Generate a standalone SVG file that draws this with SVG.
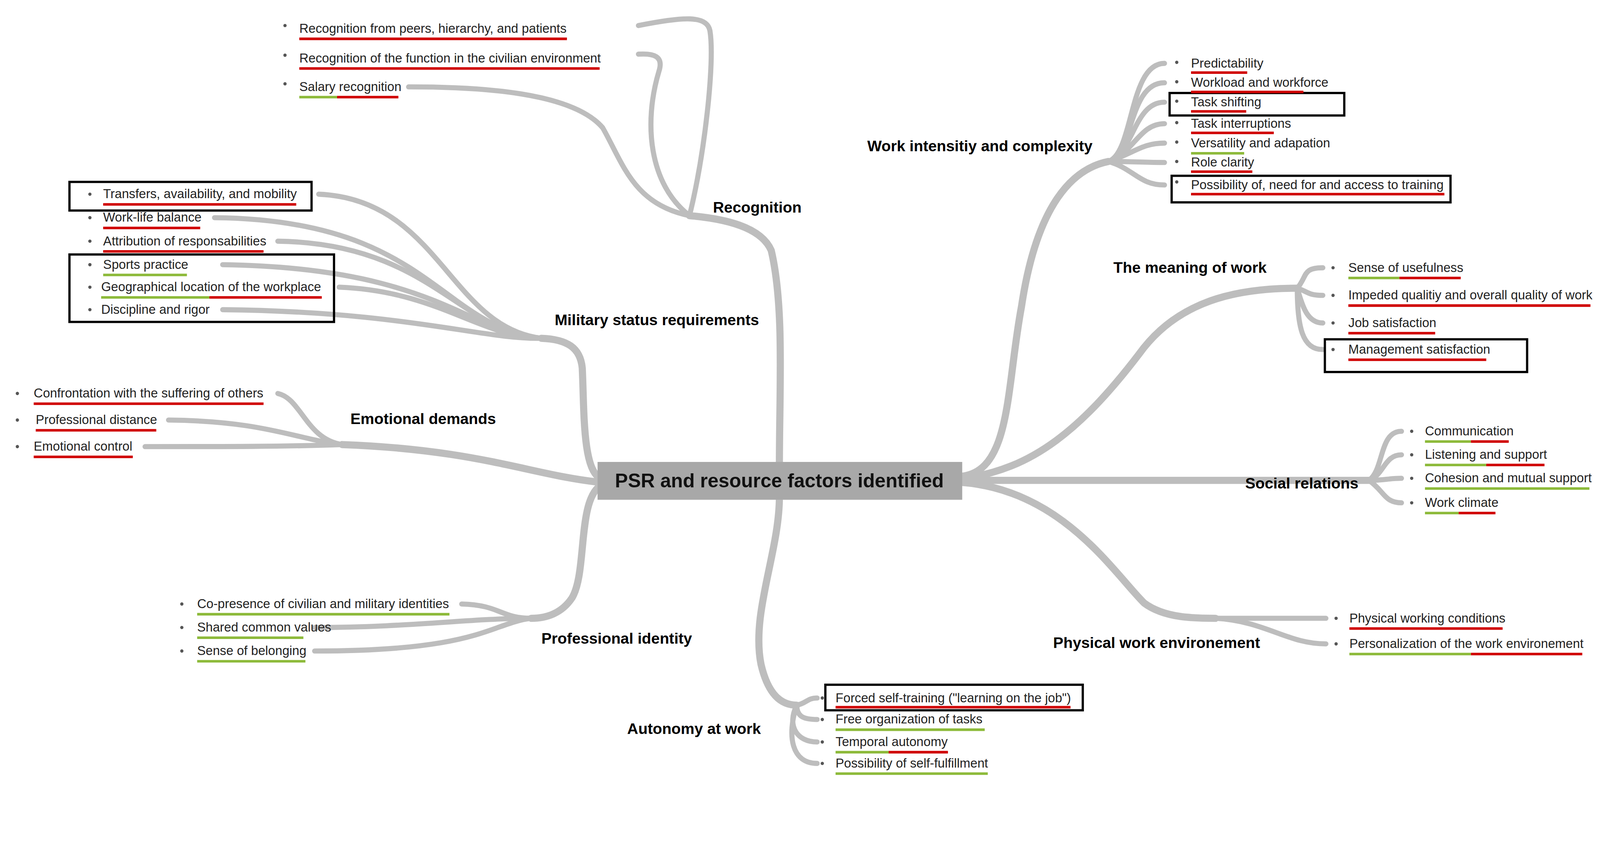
<svg xmlns="http://www.w3.org/2000/svg" width="4375" height="2157" viewBox="0 0 4375 2157">
<style>
.t{font-family:"Liberation Sans",Arial,sans-serif;font-size:12.5px;fill:#222}
.l{font-family:"Liberation Sans",Arial,sans-serif;font-size:15px;font-weight:bold;fill:#000}
.br{fill:none;stroke:#bdbdbd;stroke-width:7;stroke-linecap:round}
.sb{fill:none;stroke:#bdbdbd;stroke-width:5;stroke-linecap:round}
.r{stroke:#d00000;stroke-width:2.5}
.g{stroke:#8dba3a;stroke-width:2.5}
.bx{fill:none;stroke:#000;stroke-width:2.2}
.d{fill:#555}
</style>
<rect width="4375" height="2157" fill="#fff"/>
<g transform="scale(2.615)">
<g id="connectors">
<path class="br" d="M763,455 C763,380 768,300 755,245 C745,222 710,214 675,211"/>
<path class="br" d="M588,468 C570,460 572,400 570,360 C568,340 555,332 530,331"/>
<path class="br" d="M588,472 C520,465 470,440 335,435"/>
<path class="br" d="M588,475 C565,490 575,560 560,585 C550,600 535,605 520,605"/>
<path class="br" d="M763,486 C763,540 735,600 745,650 C752,680 765,690 780,690"/>
<path class="br" d="M942,466 C990,460 985,380 1000,300 C1015,200 1050,165 1085,158"/>
<path class="br" d="M942,468 C1010,460 1060,420 1120,340 C1160,290 1220,282 1270,282"/>
<path class="br" d="M942,470 C1050,470 1200,470 1340,470"/>
<path class="br" d="M942,472 C1040,480 1090,560 1120,590 C1140,605 1170,605 1190,605"/>
<path class="sb" d="M675,211 C690,150 700,60 695,30 C692,15 670,16 625,25"/>
<path class="sb" d="M675,211 C635,180 630,120 645,70 C650,55 640,52 625,53"/>
<path class="sb" d="M675,211 C620,200 610,160 590,125 C560,90 470,85 400,85"/>
<path class="sb" d="M530,331 C440,320 430,195 312,190"/>
<path class="sb" d="M530,331 C430,320 420,215 210,213"/>
<path class="sb" d="M530,331 C450,325 420,238 272,236"/>
<path class="sb" d="M530,331 C460,328 430,262 218,259"/>
<path class="sb" d="M530,331 C470,330 430,285 332,281"/>
<path class="sb" d="M530,331 C470,332 400,305 218,303"/>
<path class="sb" d="M335,435 C300,430 295,390 272,385"/>
<path class="sb" d="M335,435 C290,430 260,412 165,411"/>
<path class="sb" d="M335,435 C280,437 220,437 142,437"/>
<path class="sb" d="M520,605 C490,605 490,592 452,591"/>
<path class="sb" d="M520,605 C460,605 400,614 308,614"/>
<path class="sb" d="M520,605 C480,610 470,637 308,637"/>
<path class="sb" d="M780,690 C790,688 790,683 800,683"/>
<path class="sb" d="M780,690 C780,700 785,704 800,704"/>
<path class="sb" d="M780,690 C770,710 780,726 800,726"/>
<path class="sb" d="M780,690 C770,720 775,747 800,747"/>
<path class="sb" d="M1085,158 C1110,150 1105,62 1140,62"/>
<path class="sb" d="M1085,158 C1110,150 1105,81 1140,81"/>
<path class="sb" d="M1085,158 C1110,150 1110,100 1140,100"/>
<path class="sb" d="M1085,158 C1110,150 1115,121 1140,121"/>
<path class="sb" d="M1085,158 C1110,150 1118,140 1140,140"/>
<path class="sb" d="M1085,158 C1110,158 1120,159 1140,159"/>
<path class="sb" d="M1085,158 C1110,165 1115,181 1140,181"/>
<path class="sb" d="M1270,282 C1280,270 1275,262 1295,262"/>
<path class="sb" d="M1270,282 C1280,285 1280,289 1295,289"/>
<path class="sb" d="M1270,282 C1275,300 1280,316 1295,316"/>
<path class="sb" d="M1270,282 C1270,320 1275,342 1295,342"/>
<path class="sb" d="M1340,470 C1355,460 1350,422 1372,422"/>
<path class="sb" d="M1340,470 C1355,465 1355,445 1372,445"/>
<path class="sb" d="M1340,470 C1355,470 1360,468 1372,468"/>
<path class="sb" d="M1340,470 C1355,480 1355,492 1372,492"/>
<path class="sb" d="M1190,605 C1240,605 1270,605 1298,605"/>
<path class="sb" d="M1190,605 C1240,608 1260,630 1298,630"/>
</g>

<g id="center">
<rect x="585" y="452" width="357" height="37" fill="#a8a8a8"/>
<text x="763" y="477" text-anchor="middle" style="font-family:'Liberation Sans',Arial,sans-serif;font-size:19px;font-weight:bold;fill:#111">PSR and resource factors identified</text>
</g>

<g id="recognition">
<text class="l" x="698" y="208">Recognition</text>
<circle class="d" cx="279" cy="25" r="1.6"/><text class="t" x="293" y="32">Recognition from peers, hierarchy, and patients</text><line class="r" x1="293" y1="38" x2="555" y2="38"/>
<circle class="d" cx="279" cy="54" r="1.6"/><text class="t" x="293" y="61">Recognition of the function in the civilian environment</text><line class="r" x1="293" y1="67" x2="587" y2="67"/>
<circle class="d" cx="279" cy="82" r="1.6"/><text class="t" x="293" y="89">Salary recognition</text><line class="g" x1="293" y1="95" x2="330" y2="95"/><line class="r" x1="330" y1="95" x2="390" y2="95"/>
</g>

<g id="military">
<text class="l" x="543" y="318">Military status requirements</text>
<rect class="bx" x="68" y="178" width="237" height="28"/>
<rect class="bx" x="68" y="249" width="259" height="66"/>
<circle class="d" cx="88" cy="190" r="1.6"/><text class="t" x="101" y="194">Transfers, availability, and mobility</text><line class="r" x1="101" y1="200" x2="290" y2="200"/>
<circle class="d" cx="88" cy="213" r="1.6"/><text class="t" x="101" y="217">Work-life balance</text><line class="r" x1="101" y1="223" x2="196" y2="223"/>
<circle class="d" cx="88" cy="236" r="1.6"/><text class="t" x="101" y="240">Attribution of responsabilities</text><line class="r" x1="101" y1="246" x2="258" y2="246"/>
<circle class="d" cx="88" cy="259" r="1.6"/><text class="t" x="101" y="263">Sports practice</text><line class="g" x1="101" y1="269" x2="183" y2="269"/>
<circle class="d" cx="88" cy="281" r="1.6"/><text class="t" x="99" y="285">Geographical location of the workplace</text><line class="g" x1="99" y1="291" x2="205" y2="291"/><line class="r" x1="205" y1="291" x2="315" y2="291"/>
<circle class="d" cx="88" cy="303" r="1.6"/><text class="t" x="99" y="307">Discipline and rigor</text>
</g>

<g id="emotional">
<text class="l" x="343" y="415">Emotional demands</text>
<circle class="d" cx="17" cy="385" r="1.6"/><text class="t" x="33" y="389">Confrontation with the suffering of others</text><line class="r" x1="33" y1="395" x2="258" y2="395"/>
<circle class="d" cx="17" cy="411" r="1.6"/><text class="t" x="35" y="415">Professional distance</text><line class="r" x1="35" y1="421" x2="153" y2="421"/>
<circle class="d" cx="17" cy="437" r="1.6"/><text class="t" x="33" y="441">Emotional control</text><line class="r" x1="33" y1="447" x2="130" y2="447"/>
</g>

<g id="professional">
<text class="l" x="530" y="630">Professional identity</text>
<circle class="d" cx="178" cy="591" r="1.6"/><text class="t" x="193" y="595">Co-presence of civilian and military identities</text><line class="g" x1="193" y1="601" x2="440" y2="601"/>
<circle class="d" cx="178" cy="614" r="1.6"/><text class="t" x="193" y="618">Shared common values</text><line class="g" x1="193" y1="624" x2="297" y2="624"/>
<circle class="d" cx="178" cy="637" r="1.6"/><text class="t" x="193" y="641">Sense of belonging</text><line class="g" x1="193" y1="647" x2="299" y2="647"/>
</g>

<g id="autonomy">
<text class="l" x="614" y="718">Autonomy at work</text>
<rect class="bx" x="808" y="670" width="252" height="25"/>
<circle class="d" cx="805" cy="683" r="1.6"/><text class="t" x="818" y="687">Forced self-training ("learning on the job")</text><line class="r" x1="818" y1="692" x2="1048" y2="692"/>
<circle class="d" cx="805" cy="704" r="1.6"/><text class="t" x="818" y="708">Free organization of tasks</text><line class="g" x1="818" y1="714" x2="964" y2="714"/>
<circle class="d" cx="805" cy="726" r="1.6"/><text class="t" x="818" y="730">Temporal autonomy</text><line class="g" x1="818" y1="736" x2="870" y2="736"/><line class="r" x1="870" y1="736" x2="928" y2="736"/>
<circle class="d" cx="805" cy="747" r="1.6"/><text class="t" x="818" y="751">Possibility of self-fulfillment</text><line class="g" x1="818" y1="757" x2="967" y2="757"/>
</g>

<g id="intensity">
<text class="l" x="849" y="148">Work intensitiy and complexity</text>
<rect class="bx" x="1145" y="91" width="171" height="22"/>
<rect class="bx" x="1147" y="172" width="273" height="26"/>
<circle class="d" cx="1152" cy="61" r="1.6"/><text class="t" x="1166" y="66">Predictability</text><line class="r" x1="1166" y1="71" x2="1221" y2="71"/>
<circle class="d" cx="1152" cy="80" r="1.6"/><text class="t" x="1166" y="85">Workload and workforce</text><line class="r" x1="1166" y1="90" x2="1276" y2="90"/>
<circle class="d" cx="1152" cy="99" r="1.6"/><text class="t" x="1166" y="104">Task shifting</text><line class="r" x1="1166" y1="109" x2="1220" y2="109"/>
<circle class="d" cx="1152" cy="120" r="1.6"/><text class="t" x="1166" y="125">Task interruptions</text><line class="r" x1="1166" y1="130" x2="1247" y2="130"/>
<circle class="d" cx="1152" cy="139" r="1.6"/><text class="t" x="1166" y="144">Versatility and adapation</text><line class="g" x1="1166" y1="150" x2="1218" y2="150"/>
<circle class="d" cx="1152" cy="158" r="1.6"/><text class="t" x="1166" y="163">Role clarity</text><line class="r" x1="1166" y1="168" x2="1226" y2="168"/>
<circle class="d" cx="1152" cy="178" r="1.6" fill="#c00"/><text class="t" x="1166" y="185">Possibility of, need for and access to training</text><line class="r" x1="1166" y1="190" x2="1414" y2="190"/>
</g>

<g id="meaning">
<text class="l" x="1090" y="267">The meaning of work</text>
<rect class="bx" x="1297" y="332" width="198" height="32"/>
<circle class="d" cx="1305" cy="262" r="1.6"/><text class="t" x="1320" y="266">Sense of usefulness</text><line class="g" x1="1320" y1="272" x2="1370" y2="272"/><line class="r" x1="1370" y1="272" x2="1430" y2="272"/>
<circle class="d" cx="1305" cy="289" r="1.6"/><text class="t" x="1320" y="293">Impeded qualitiy and overall quality of work</text><line class="r" x1="1320" y1="299" x2="1557" y2="299"/>
<circle class="d" cx="1305" cy="316" r="1.6"/><text class="t" x="1320" y="320">Job satisfaction</text><line class="r" x1="1320" y1="326" x2="1405" y2="326"/>
<circle class="d" cx="1305" cy="342" r="1.6"/><text class="t" x="1320" y="346">Management satisfaction</text><line class="r" x1="1320" y1="352" x2="1455" y2="352"/>
</g>

<g id="social">
<text class="l" x="1219" y="478">Social relations</text>
<circle class="d" cx="1382" cy="422" r="1.6"/><text class="t" x="1395" y="426">Communication</text><line class="g" x1="1395" y1="432" x2="1440" y2="432"/><line class="r" x1="1440" y1="432" x2="1477" y2="432"/>
<circle class="d" cx="1382" cy="445" r="1.6"/><text class="t" x="1395" y="449">Listening and support</text><line class="g" x1="1395" y1="455" x2="1455" y2="455"/><line class="r" x1="1455" y1="455" x2="1512" y2="455"/>
<circle class="d" cx="1382" cy="468" r="1.6"/><text class="t" x="1395" y="472">Cohesion and mutual support</text><line class="g" x1="1395" y1="478" x2="1556" y2="478"/>
<circle class="d" cx="1382" cy="492" r="1.6"/><text class="t" x="1395" y="496">Work climate</text><line class="g" x1="1395" y1="502" x2="1428" y2="502"/><line class="r" x1="1428" y1="502" x2="1464" y2="502"/>
</g>

<g id="physical">
<text class="l" x="1031" y="634">Physical work environement</text>
<circle class="d" cx="1308" cy="605" r="1.6"/><text class="t" x="1321" y="609">Physical working conditions</text><line class="r" x1="1321" y1="615" x2="1471" y2="615"/>
<circle class="d" cx="1308" cy="630" r="1.6"/><text class="t" x="1321" y="634">Personalization of the work environement</text><line class="g" x1="1321" y1="640" x2="1440" y2="640"/><line class="r" x1="1440" y1="640" x2="1549" y2="640"/>
</g>
</g>
</svg>
